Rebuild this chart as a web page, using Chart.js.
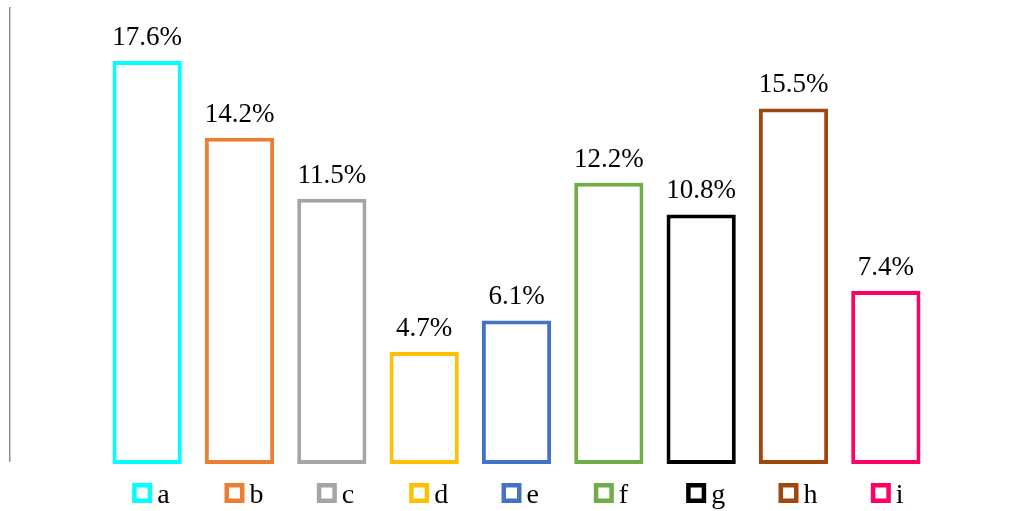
<!DOCTYPE html>
<html>
<head>
<meta charset="utf-8">
<style>
  html, body { margin: 0; padding: 0; background: #ffffff; }
  #wrap { width: 1016px; height: 511px; position: relative; }
</style>
<script src="https://cdn.jsdelivr.net/npm/chart.js@4.4.1/dist/chart.umd.min.js"></script>
</head>
<body>
<div id="wrap"><canvas id="chart" width="1016" height="511"></canvas></div>
<script>
// Share of each group, in percent
const categories = ['a', 'b', 'c', 'd', 'e', 'f', 'g', 'h', 'i'];
const shares = [17.6, 14.2, 11.5, 4.7, 6.1, 12.2, 10.8, 15.5, 7.4];
const outlineColors = ['#00FFFF', '#ED7D31', '#A5A5A5', '#FFC000', '#4472C4',
                       '#70AD47', '#000000', '#9E480E', '#FF0066'];
const valueLabels = shares.map(v => v.toFixed(1) + '%');

const SERIF = '"Liberation Serif", "Times New Roman", serif';

// Percent labels above each bar, a custom legend row and the thin rule on the left
const decorations = {
  id: 'decorations',
  afterDatasetsDraw(chart) {
    const ctx = chart.ctx;
    const meta = chart.getDatasetMeta(0);
    const xScale = chart.scales.x;
    ctx.save();

    // left rule
    ctx.fillStyle = '#8c8c8c';
    ctx.fillRect(9, 7, 1, 455);
    ctx.fillStyle = '#cccccc';
    ctx.fillRect(10, 7, 1, 455);

    // value labels
    ctx.fillStyle = '#000000';
    ctx.font = '27px ' + SERIF;
    ctx.textAlign = 'center';
    ctx.textBaseline = 'alphabetic';
    meta.data.forEach((bar, i) => {
      ctx.fillText(valueLabels[i], bar.x, bar.y - 16);
    });

    // legend entries under the bars
    ctx.font = '28px ' + SERIF;
    ctx.textAlign = 'left';
    categories.forEach((name, i) => {
      const c = xScale.getPixelForValue(i);
      ctx.strokeStyle = outlineColors[i];
      ctx.lineWidth = 4.5;
      ctx.strokeRect(c - 15 + 2.25, 483 + 2.25, 20 - 4.5, 20 - 4.5);
      ctx.fillStyle = '#000000';
      ctx.fillText(name, c + 10, 503);
    });
    ctx.restore();
  }
};

new Chart(document.getElementById('chart'), {
  type: 'bar',
  data: {
    labels: categories,
    datasets: [{
      data: shares,
      base: -0.27,
      backgroundColor: '#ffffff',
      borderColor: outlineColors,
      borderWidth: 4,
      borderSkipped: false,
      categoryPercentage: 1,
      barPercentage: 0.75
    }]
  },
  options: {
    responsive: false,
    animation: false,
    devicePixelRatio: 1,
    layout: { padding: { left: 101, right: 84, top: 7, bottom: 47 } },
    plugins: {
      legend: { display: false },
      tooltip: { enabled: false }
    },
    scales: {
      x: { display: false, offset: true },
      y: { display: false, min: -0.27, max: 20 }
    }
  },
  plugins: [decorations]
});
</script>
</body>
</html>
